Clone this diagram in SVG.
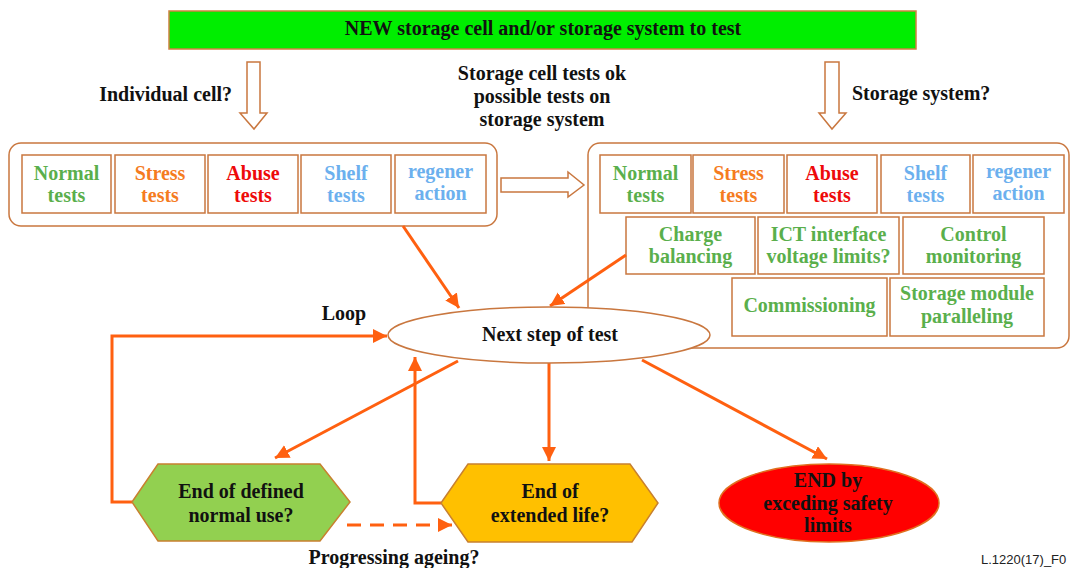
<svg xmlns="http://www.w3.org/2000/svg" width="1070" height="568" viewBox="0 0 1070 568">
<defs>
<style>
text{font-family:"Liberation Serif","Times New Roman",serif;font-weight:bold;font-size:20px;text-anchor:middle;fill:#111}
.box{fill:#fff;stroke:#c9773f;stroke-width:1.5}
.grp{fill:none;stroke:#c9773f;stroke-width:1.5}
.hollow{fill:#fff;stroke:#c9773f;stroke-width:1.5}
.con{fill:none;stroke:#ff6010;stroke-width:3}
.dash{stroke-dasharray:14 9}
.gn{fill:#5aaf4c}.or{fill:#f57c1f}.rd{fill:#ee0a0a}.bl{fill:#6cb0ee}
.small{font-family:"Liberation Sans",Arial,sans-serif;font-weight:normal;font-size:13px;text-anchor:start;fill:#222}
</style>
<marker id="ah" markerUnits="userSpaceOnUse" markerWidth="15" markerHeight="15" refX="14" refY="7" orient="auto">
<path d="M0,0 L14,7 L0,14 z" fill="#ff6010"/>
</marker>
</defs>
<rect width="1070" height="568" fill="#fff"/>

<g id="start">
<rect x="169" y="11" width="747" height="38" fill="#00ee00" stroke="#d08040" stroke-width="1.5"/>
<text x="543" y="35">NEW storage cell and/or storage system to test</text>
</g>

<g id="labels">
<text x="232" y="101" style="text-anchor:end">Individual cell?</text>
<text x="852" y="100" style="text-anchor:start">Storage system?</text>
<text x="542" y="80">Storage cell tests ok</text>
<text x="542" y="103">possible tests on</text>
<text x="542" y="126">storage system</text>
<text x="344" y="320">Loop</text>
<text x="394" y="564">Progressing ageing?</text>
<text class="small" x="981" y="564">L.1220(17)_F0</text>
</g>

<g id="block-arrows">
<polygon class="hollow" points="247,62 260,62 260,113 267,113 254,129 240,113 247,113"/>
<polygon class="hollow" points="825,62 839,62 839,113 846,113 832,129 819,113 825,113"/>
<polygon class="hollow" points="501,178 568,178 568,172 584,185 568,197 568,192 501,192"/>
</g>

<g id="cell-tests">
<rect class="grp" x="9" y="143" width="488" height="83" rx="12"/>
<rect class="box" x="22" y="155" width="89" height="58"/>
<text class="gn" x="66.5" y="180">Normal</text><text class="gn" x="66.5" y="202">tests</text>
<rect class="box" x="115" y="155" width="90" height="58"/>
<text class="or" x="160" y="180">Stress</text><text class="or" x="160" y="202">tests</text>
<rect class="box" x="208" y="155" width="90" height="58"/>
<text class="rd" x="253" y="180">Abuse</text><text class="rd" x="253" y="202">tests</text>
<rect class="box" x="301" y="155" width="90" height="58"/>
<text class="bl" x="346" y="180">Shelf</text><text class="bl" x="346" y="202">tests</text>
<rect class="box" x="395" y="155" width="91" height="58"/>
<text class="bl" x="440.5" y="178">regener</text><text class="bl" x="440.5" y="200">action</text>
</g>

<g id="system-tests">
<rect class="grp" x="588" y="143" width="481" height="205" rx="12"/>
<rect class="box" x="600" y="155" width="91" height="58"/>
<text class="gn" x="645.5" y="180">Normal</text><text class="gn" x="645.5" y="202">tests</text>
<rect class="box" x="693" y="155" width="91" height="58"/>
<text class="or" x="738.5" y="180">Stress</text><text class="or" x="738.5" y="202">tests</text>
<rect class="box" x="787" y="155" width="90" height="58"/>
<text class="rd" x="832" y="180">Abuse</text><text class="rd" x="832" y="202">tests</text>
<rect class="box" x="881" y="155" width="89" height="58"/>
<text class="bl" x="925.5" y="180">Shelf</text><text class="bl" x="925.5" y="202">tests</text>
<rect class="box" x="973" y="155" width="91" height="58"/>
<text class="bl" x="1018.5" y="178">regener</text><text class="bl" x="1018.5" y="200">action</text>
<rect class="box" x="626" y="217" width="129" height="57"/>
<text class="gn" x="690.5" y="241">Charge</text><text class="gn" x="690.5" y="263">balancing</text>
<rect class="box" x="758" y="217" width="141" height="57"/>
<text class="gn" x="828.5" y="241">ICT interface</text><text class="gn" x="828.5" y="263">voltage limits?</text>
<rect class="box" x="903" y="217" width="141" height="57"/>
<text class="gn" x="973.5" y="241">Control</text><text class="gn" x="973.5" y="263">monitoring</text>
<rect class="box" x="732" y="278" width="155" height="58"/>
<text class="gn" x="809.5" y="312">Commissioning</text>
<rect class="box" x="890" y="278" width="154" height="58"/>
<text class="gn" x="967" y="300">Storage module</text><text class="gn" x="967" y="323">paralleling</text>
</g>

<g id="connectors">
<line class="con" x1="403" y1="226" x2="459" y2="308" marker-end="url(#ah)"/>
<line class="con" x1="626" y1="255" x2="550" y2="306" marker-end="url(#ah)"/>
<path class="con" d="M132,502 H112 V336 H387" marker-end="url(#ah)"/>
<line class="con" x1="458" y1="361" x2="275" y2="458" marker-end="url(#ah)"/>
<line class="con" x1="549" y1="363" x2="549" y2="461" marker-end="url(#ah)"/>
<path class="con" d="M441,503 H415 V357" marker-end="url(#ah)"/>
<line class="con" x1="642" y1="360" x2="827" y2="459" marker-end="url(#ah)"/>
<line class="con dash" x1="347" y1="525" x2="452" y2="525" marker-end="url(#ah)"/>
</g>

<g id="next-step">
<ellipse cx="549" cy="335" rx="161" ry="28" fill="#fff" stroke="#c9773f" stroke-width="1.5"/>
<text x="550" y="341">Next step of test</text>
</g>

<g id="end-normal">
<polygon points="132,502 158,464 320,464 350,502 320,541 158,541" fill="#92d050" stroke="#c8802f" stroke-width="1.5"/>
<text x="241" y="498">End of defined</text>
<text x="241" y="522">normal use?</text>
</g>

<g id="end-extended">
<polygon points="441,503 468,464 630,464 658,503 632,542 468,542" fill="#ffc000" stroke="#c8802f" stroke-width="1.5"/>
<text x="550" y="498">End of</text>
<text x="550" y="522">extended life?</text>
</g>

<g id="end-safety">
<ellipse cx="829" cy="503" rx="110" ry="39" fill="#ff0000" stroke="#e07020" stroke-width="1.5"/>
<text x="828" y="487">END by</text>
<text x="828" y="510">exceding safety</text>
<text x="828" y="532">limits</text>
</g>
</svg>
